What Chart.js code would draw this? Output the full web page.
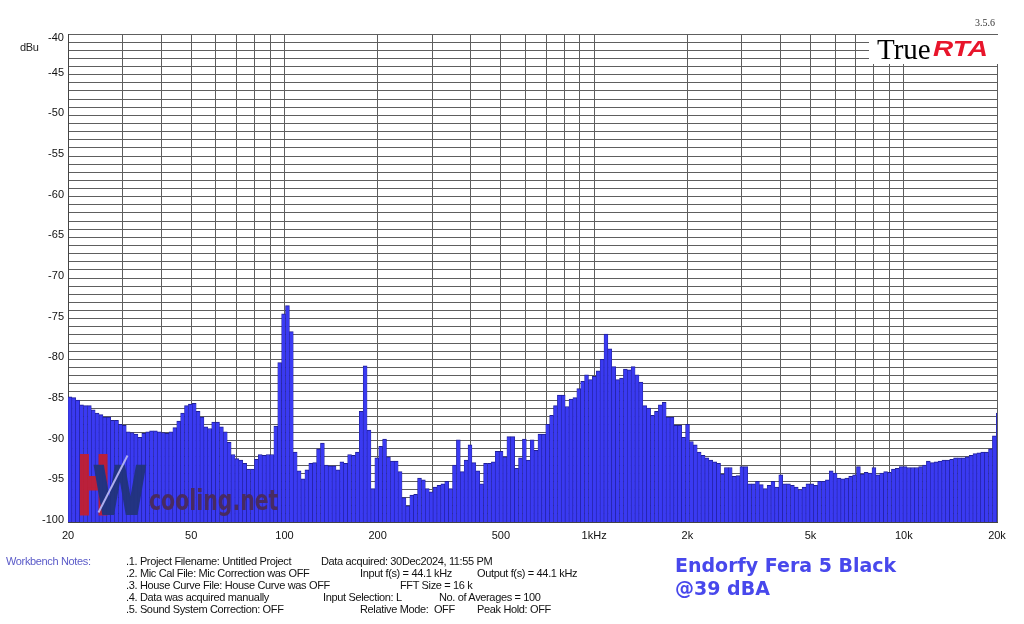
<!DOCTYPE html>
<html><head><meta charset="utf-8">
<script src="https://cdn.jsdelivr.net/npm/chart.js@4.4.1/dist/chart.umd.min.js"></script>
<style>
html,body{margin:0;padding:0;background:#fff;width:1024px;height:624px;overflow:hidden;font-family:"Liberation Sans",Arial,sans-serif}
#cv{position:absolute;left:0;top:0}
.t{position:absolute;white-space:pre;font-size:11px;line-height:12px;color:#111;letter-spacing:-0.35px}
#logo{position:absolute;left:869px;top:35px;width:129px;height:29px;background:#fff}
#true{position:absolute;left:877px;top:34px;font-family:"Liberation Serif","Times New Roman",serif;font-size:29px;line-height:30px;color:#000}
#rta{position:absolute;left:933px;top:37px;font-family:"Liberation Sans",Arial,sans-serif;font-weight:bold;font-style:italic;font-size:22px;line-height:24px;color:#e8152b;transform:scaleX(1.27);transform-origin:left top}
#ver{position:absolute;left:975px;top:17px;font-family:"Liberation Serif",serif;font-size:10px;color:#333}
#title{position:absolute;left:675px;top:554px;font-family:"DejaVu Sans",Verdana,sans-serif;font-weight:bold;font-size:19px;line-height:23px;color:#4848ec;white-space:pre}
.wm{position:absolute;font-family:"DejaVu Sans",sans-serif;font-weight:bold;white-space:pre;transform-origin:left top}
</style></head>
<body>
<canvas id="cv" width="1024" height="624"></canvas>
<div class="t" style="left:20px;top:41px;color:#222">dBu</div>
<div class="t" style="left:48px;top:31px;color:#111;letter-spacing:0">-40</div>
<div id="ver">3.5.6</div>
<div id="logo"></div>
<div id="true">True</div>
<div id="rta">RTA</div>
<div style="position:absolute;left:0;top:0;width:1024px;height:624px;opacity:0.93">
  <div class="wm" style="left:77px;top:447px;font-size:80px;line-height:80px;transform:scaleX(0.5);color:#c41f2e;-webkit-text-stroke:3px #c41f2e">H</div>
  <div class="wm" style="left:93px;top:459px;font-size:66px;line-height:66px;transform:scaleX(0.74);color:#22347a;-webkit-text-stroke:2px #22347a">W</div>
  <div style="position:absolute;left:112px;top:452px;width:2px;height:64px;background:#b8b8f0;transform:rotate(27deg);transform-origin:center"></div>
  <div class="wm" style="left:149px;top:484px;font-size:28px;line-height:34px;transform:scaleX(0.73);color:#4a2a58">cooling.net</div>
</div>
<div class="t" style="left:6px;top:555px;color:#5a5ac8">Workbench Notes:</div>
<div class="t" style="left:126px;top:555px">.1. Project Filename: Untitled Project</div>
<div class="t" style="left:321px;top:555px">Data acquired: 30Dec2024, 11:55 PM</div>
<div class="t" style="left:126px;top:567px">.2. Mic Cal File: Mic Correction was OFF</div>
<div class="t" style="left:360px;top:567px">Input f(s) = 44.1 kHz</div>
<div class="t" style="left:477px;top:567px">Output f(s) = 44.1 kHz</div>
<div class="t" style="left:126px;top:579px">.3. House Curve File: House Curve was OFF</div>
<div class="t" style="left:400px;top:579px">FFT Size = 16 k</div>
<div class="t" style="left:126px;top:591px">.4. Data was acquired manually</div>
<div class="t" style="left:323px;top:591px">Input Selection: L</div>
<div class="t" style="left:439px;top:591px">No. of Averages = 100</div>
<div class="t" style="left:126px;top:603px">.5. Sound System Correction: OFF</div>
<div class="t" style="left:360px;top:603px">Relative Mode:  OFF</div>
<div class="t" style="left:477px;top:603px">Peak Hold: OFF</div>
<div id="title">Endorfy Fera 5 Black
@39 dBA</div>
<script>
// 1/24-octave analyser bands starting at 20 Hz
const startHz = 20;
const bandsPerOctave = 24;
const bandCount = 240;
const bandCentersHz = Array.from({length: bandCount}, (_, k) => startHz * Math.pow(2, (k + 0.5) / bandsPerOctave));

const levelDbu = [
-84.6,-84.7,-85.0,-85.6,-85.7,-85.7,-86.2,-86.6,-86.8,-87.1,
-87.1,-87.5,-87.5,-88.0,-88.1,-88.9,-89.0,-89.2,-89.6,-89.1,
-88.9,-88.8,-88.8,-88.9,-89.0,-89.1,-88.9,-88.4,-87.6,-86.6,
-85.7,-85.5,-85.4,-86.4,-87.1,-88.3,-88.5,-87.7,-87.7,-88.3,
-88.9,-90.2,-91.7,-92.2,-92.4,-92.8,-93.5,-93.5,-92.3,-91.7,
-91.8,-91.7,-91.7,-88.2,-80.4,-74.4,-73.4,-76.6,-91.4,-93.7,
-94.7,-93.6,-92.8,-92.7,-91.0,-90.3,-93.0,-93.1,-93.1,-93.6,
-92.6,-92.8,-91.7,-91.8,-91.4,-86.4,-80.8,-88.7,-95.9,-92.1,
-90.7,-89.8,-92.0,-92.5,-92.5,-93.8,-97.0,-98.0,-96.7,-96.6,
-94.6,-94.8,-95.9,-96.3,-95.7,-95.5,-95.3,-95.0,-95.9,-93.0,
-89.9,-93.8,-92.4,-90.5,-92.7,-93.7,-95.3,-92.8,-92.8,-92.6,
-91.3,-91.3,-92.0,-89.5,-89.5,-93.4,-92.1,-89.8,-92.4,-89.9,
-91.2,-89.2,-89.2,-88.0,-86.9,-85.7,-84.4,-84.4,-85.8,-84.9,
-84.7,-83.6,-82.7,-81.9,-82.5,-82.1,-81.4,-80.0,-76.9,-78.7,
-80.9,-82.5,-82.3,-81.2,-81.3,-80.9,-81.9,-82.8,-85.7,-86.0,
-86.9,-86.4,-85.6,-85.3,-87.1,-87.1,-88.1,-88.1,-89.6,-88.0,
-90.1,-90.5,-91.4,-91.8,-92.1,-92.4,-92.6,-92.8,-94.1,-93.3,
-93.3,-94.4,-94.3,-93.2,-93.2,-95.3,-95.3,-95.0,-95.4,-95.9,
-95.5,-95.0,-95.7,-94.2,-95.3,-95.3,-95.5,-95.7,-96.0,-95.7,
-95.3,-95.3,-95.5,-95.0,-95.0,-94.8,-93.7,-94.0,-94.6,-94.7,
-94.6,-94.4,-94.2,-93.2,-94.1,-93.9,-94.0,-93.3,-94.2,-94.0,
-93.8,-93.9,-93.5,-93.4,-93.2,-93.2,-93.3,-93.3,-93.3,-93.2,
-93.0,-92.5,-92.7,-92.6,-92.5,-92.4,-92.4,-92.3,-92.1,-92.1,
-92.1,-92.0,-91.8,-91.6,-91.5,-91.4,-91.4,-91.0,-89.4,-86.6
];

// Axis grid and labels
const xGridHz = [20,30,40,50,60,70,80,90,100,200,300,400,500,600,700,800,900,1000,2000,3000,4000,5000,6000,7000,8000,9000,10000,20000];
const xTickLabels = {20:'20',50:'50',100:'100',200:'200',500:'500',1000:'1kHz',2000:'2k',5000:'5k',10000:'10k',20000:'20k'};
const yMin = -100, yMax = -40;
const yGridDb = [];
for (let v = yMin; v <= yMax; v++) yGridDb.push(v);
const yLabelStep = 5;

const floorDb = yMin;
const points = bandCentersHz.map((f, i) => ({x: f, y: [floorDb, levelDbu[i]]}));

new Chart(document.getElementById('cv'), {
  type: 'bar',
  data: {
    datasets: [{
      data: points,
      backgroundColor: '#3a3af2',
      borderColor: '#1f1f96',
      borderWidth: {top: 1, left: 0.6, right: 0.6, bottom: 0},
      borderSkipped: false,
      categoryPercentage: 1,
      barPercentage: 1
    }]
  },
  options: {
    responsive: false,
    animation: false,
    devicePixelRatio: 1,
    layout: {padding: {top: 34, right: 27, bottom: 0, left: 0}},
    plugins: {legend: {display: false}, tooltip: {enabled: false}},
    scales: {
      x: {
        type: 'logarithmic',
        min: 20, max: 20000,
        offset: false,
        afterBuildTicks: s => { s.ticks = xGridHz.map(v => ({value: v})); },
        afterFit: s => { s.height = 102; },
        grid: {color: '#5e5e5e', lineWidth: 1, drawTicks: false, offset: false},
        border: {display: true, color: '#444'},
        ticks: {
          autoSkip: false, maxRotation: 0, minRotation: 0, padding: 7,
          color: '#111', font: {family: 'Liberation Sans', size: 11},
          callback: v => (xTickLabels[v] !== undefined ? xTickLabels[v] : '')
        }
      },
      y: {
        type: 'linear',
        min: yMin, max: yMax,
        afterBuildTicks: s => { s.ticks = yGridDb.map(v => ({value: v})); },
        afterFit: s => { s.width = 68; },
        grid: {color: '#5e5e5e', lineWidth: 1, drawTicks: false},
        border: {display: true, color: '#444'},
        ticks: {
          autoSkip: false, padding: 4, labelOffset: -2,
          color: '#111', font: {family: 'Liberation Sans', size: 11},
          callback: v => (v % yLabelStep === 0 && v !== yMax ? String(v) : '')
        }
      }
    }
  }
});
</script>
</body></html>
